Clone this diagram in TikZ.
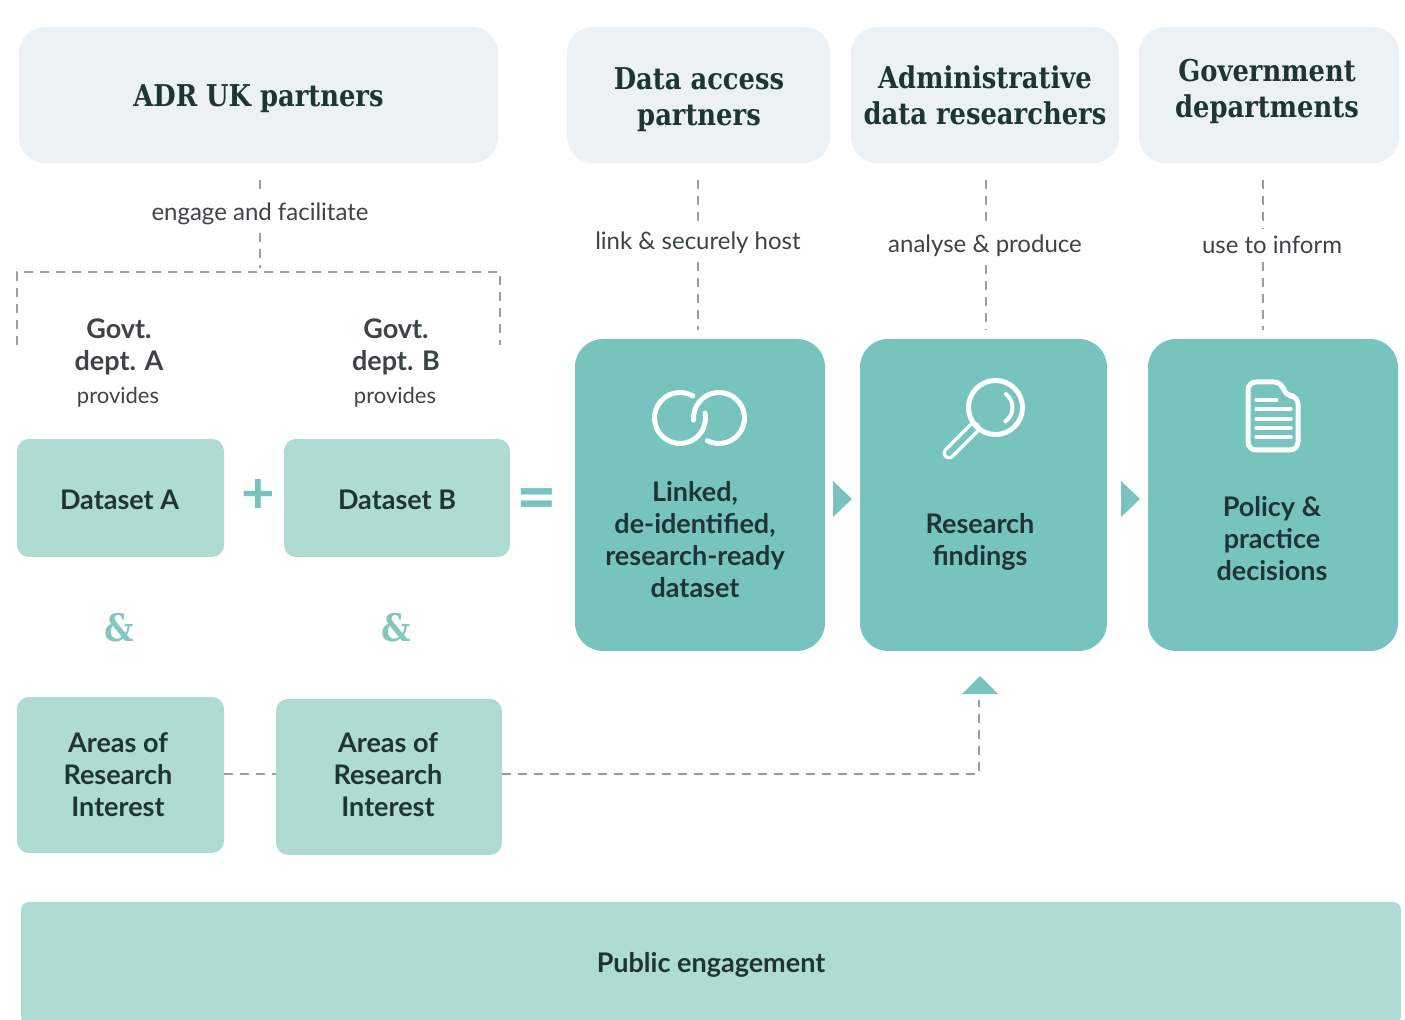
\documentclass[tikz,border=0pt]{standalone}
\usepackage{fontspec}
\setmainfont{Lato}
\newfontfamily\slabfont[FakeStretch=0.86]{DejaVu Serif}
\usepackage{tikz}
\usepackage{xcolor}
\usetikzlibrary{positioning, arrows.meta}

\definecolor{palebox}{HTML}{EBF1F4}
\definecolor{tealbox}{HTML}{76C4BD}
\definecolor{lightbox}{HTML}{AEDBD4}
\definecolor{signteal}{HTML}{82C8C1}
\definecolor{bodytext}{HTML}{1F3436}
\definecolor{labeltext}{HTML}{3C4446}
\definecolor{dashgrey}{HTML}{9A9FA0}

\begin{document}
\begin{tikzpicture}[x=0.5pt, y=-0.5pt,
    box/.style={inner sep=0pt, outer sep=0pt, align=center},
    headbox/.style={box, fill=palebox, rounded corners=13pt, minimum height=68pt},
    headtext/.style={box, font=\slabfont\bfseries\fontsize{15}{18}\selectfont, text=bodytext},
    mainbox/.style={box, fill=tealbox, rounded corners=14pt, minimum height=156pt},
    databox/.style={box, fill=lightbox, rounded corners=6pt},
    maintext/.style={box, font=\bfseries\fontsize{13.5}{16}\selectfont, text=bodytext},
    verblabel/.style={box, inner sep=4pt, font=\fontsize{12}{14}\selectfont, text=labeltext},
    deptlabel/.style={box, font=\bfseries\fontsize{13.5}{16}\selectfont, text=labeltext},
    provlabel/.style={box, font=\fontsize{11}{13}\selectfont, text=labeltext},
    sign/.style={box, text=tealbox, font=\bfseries\fontsize{29}{29}\selectfont},
    andsign/.style={box, text=signteal, font=\slabfont\bfseries\fontsize{19}{19}\selectfont},
    dashline/.style={dashgrey, line width=0.6pt, dash pattern=on 4.5pt off 3.5pt},
    icon/.style={white, line width=2.5pt, line cap=round, line join=round}]
    \useasboundingbox (0,0) rectangle (1405,1020);

    % top row
    \node[headbox, minimum width=239.5pt] (adr) at (258.5,95) {};
    \node[headbox, minimum width=131.5pt] (access) at (698.5,95) {};
    \node[headbox, minimum width=134pt] (admin) at (985,95) {};
    \node[headbox, minimum width=130pt] (govt) at (1269,95) {};
    \node[headtext] (adrtext) at (258.5,99) {ADR UK partners};
    \node[headtext] (accesstext) at (699,100) {Data access\\partners};
    \node[headtext] (admintext) at (985,95) {Administrative\\data researchers};
    \node[headtext] (govttext) at (1267,91) {Government\\departments};

    % verbs between the rows
    \node[verblabel] (engage) at (260,214) {engage and facilitate};
    \node[verblabel] (link) at (698,243) {link \& securely host};
    \node[verblabel] (analyse) at (985,246) {analyse \& produce};
    \node[verblabel] (inform) at (1272,245) {use to inform};

    % main boxes
    \node[mainbox, minimum width=125pt] (dataset) at (700,495) {};
    \node[mainbox, minimum width=123.5pt] (findings) at (983.5,495) {};
    \node[mainbox, minimum width=125pt] (policy) at (1273,495) {};
    \node[maintext] (datasettext) at (695,540) {Linked,\\de-identified,\\research-ready\\dataset};
    \node[maintext] (findingstext) at (980,542) {Research\\findings};
    \node[maintext] (policytext) at (1272,539) {Policy \&\\practice\\decisions};

    % left column
    \node[deptlabel] (depta) at (119,347) {Govt.\\dept. A};
    \node[deptlabel] (deptb) at (396,347) {Govt.\\dept. B};
    \node[provlabel] (prova) at (118,397) {provides};
    \node[provlabel] (provb) at (395,397) {provides};
    \node[databox, minimum width=103.5pt, minimum height=59pt] (dataa) at (120.5,498) {};
    \node[databox, minimum width=113pt, minimum height=59pt] (datab) at (397,498) {};
    \node[maintext] (dataatext) at (119.5,500) {Dataset A};
    \node[maintext] (databtext) at (397,500) {Dataset B};
    \node[sign] (plus) at (258,496) {+};
    \node[sign, font=\bfseries\fontsize{35}{35}\selectfont] (equals) at (537,505) {=};
    \node[andsign] (anda) at (119,628) {\&};
    \node[andsign] (andb) at (396,628) {\&};
    \node[databox, minimum width=103.5pt, minimum height=78pt] (areaa) at (120.5,775) {};
    \node[databox, minimum width=113pt, minimum height=78pt] (areab) at (389,777) {};
    \node[maintext] (areaatext) at (118,775) {Areas of\\Research\\Interest};
    \node[maintext] (areabtext) at (388,775) {Areas of\\Research\\Interest};
    \node[databox, rounded corners=4pt, minimum width=690pt, minimum height=61pt] (public) at (711,963) {};
    \node[maintext] (publictext) at (711,965) {Public engagement};

    % free ends of the dashed lines
    \coordinate (adrtop) at (260,180);
    \coordinate (accesstop) at (698,180);
    \coordinate (admintop) at (986,180);
    \coordinate (govttop) at (1263,180);
    \coordinate (accessend) at (698,330);
    \coordinate (adminend) at (986,330);
    \coordinate (govtend) at (1263,330);
    \coordinate (bracketmid) at (260,268);
    \coordinate (bracketl) at (17,272);
    \coordinate (bracketr) at (500,272);
    \coordinate (bracketla) at (17,345);
    \coordinate (bracketra) at (500,345);
    \coordinate (areaturn) at (979,774);
    \coordinate (areaend) at (979,700);

    \draw[dashline] (adrtop) -- (adrtop |- engage.north);
    \draw[dashline] (adrtop |- engage.south) -- (bracketmid);
    \draw[dashline] (accesstop) -- (accesstop |- link.north);
    \draw[dashline] (accesstop |- link.south) -- (accessend);
    \draw[dashline] (admintop) -- (admintop |- analyse.north);
    \draw[dashline] (admintop |- analyse.south) -- (adminend);
    \draw[dashline] (govttop) -- (govttop |- inform.north);
    \draw[dashline] (govttop |- inform.south) -- (govtend);
    \draw[dashline] (bracketla) -- (bracketl) -- (bracketr) -- (bracketra);
    \draw[dashline] (areaa.east |- areaturn) -- (areab.west |- areaturn);
    \draw[dashline] (areab.east |- areaturn) -- (areaturn) -- (areaend);

    % arrowheads
    \fill[tealbox] (833,481) -- (852,499) -- (833,517) -- cycle;
    \fill[tealbox] (1121,481) -- (1140,499) -- (1121,517) -- cycle;
    \fill[tealbox] (962,694) -- (980,676) -- (998,694) -- cycle;

    % rings
    \draw[icon] (680,418) ++(-60:25.5) arc[start angle=-60, end angle=-371, radius=25.5];
    \draw[icon] (719,418) ++(175:25.5) arc[start angle=175, end angle=477, radius=25.5];

    % magnifier
    \draw[white, line width=1.7pt, line cap=round, double=tealbox, double distance=3pt] (974,428) -- (949,453);
    \draw[icon] (995.5,407.5) circle[radius=27];
    \draw[icon, line width=2pt] (995.5,407.5) ++(-52:17) arc[start angle=-52, end angle=55, radius=17];

    % document
    \draw[icon, rounded corners=4pt] (1248,382) -- (1282,382) -- (1285,396) -- (1298,396) -- (1298,450) -- (1248,450) -- cycle;
    \draw[icon, line width=1.6pt] (1256,400) -- (1277,400);
    \foreach \y in {409,419,428,437}
        \draw[icon, line width=1.6pt] (1256,\y) -- (1291,\y);
\end{tikzpicture}
\end{document}
